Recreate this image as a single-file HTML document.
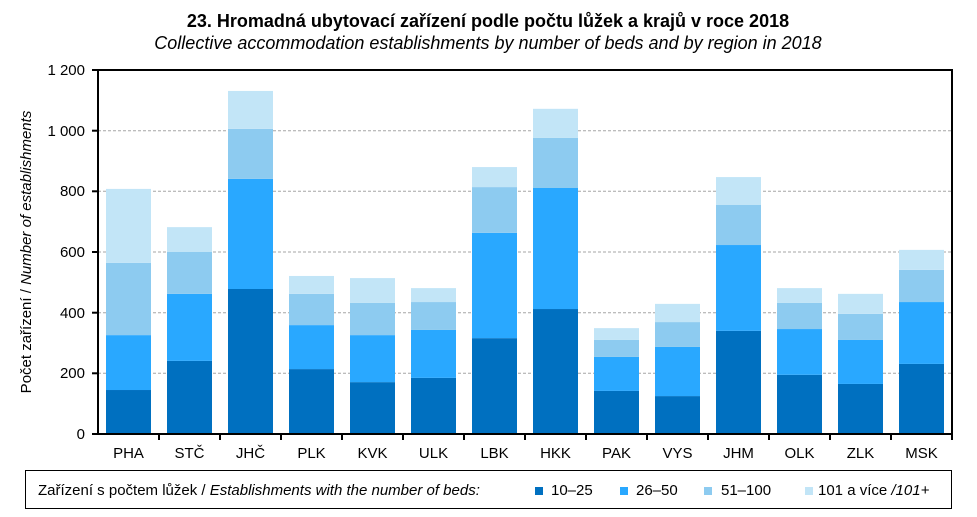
<!DOCTYPE html>
<html><head><meta charset="utf-8"><style>body{margin:0;background:#fff}svg{display:block;font-family:"Liberation Sans",Arial,sans-serif}</style></head><body>
<svg width="977" height="517" viewBox="0 0 977 517" xmlns="http://www.w3.org/2000/svg">
<text x="488" y="27" text-anchor="middle" font-size="18" font-weight="bold">23. Hromadná ubytovací zařízení podle počtu lůžek a krajů v roce 2018</text>
<text x="488" y="49" text-anchor="middle" font-size="18" font-style="italic">Collective accommodation establishments by number of beds and by region in 2018</text>
<g stroke="#a6a6a6" stroke-width="1" stroke-dasharray="3,2">
<line x1="98" x2="952" y1="130.7" y2="130.7"/><line x1="98" x2="952" y1="191.3" y2="191.3"/><line x1="98" x2="952" y1="252" y2="252"/><line x1="98" x2="952" y1="312.7" y2="312.7"/><line x1="98" x2="952" y1="373.3" y2="373.3"/>
</g>
<g id="bars"></g>
<rect x="98" y="70" width="854" height="364" fill="none" stroke="#000" stroke-width="2"/>
<g font-size="15" text-anchor="end">
<text x="85" y="75">1 200</text><text x="85" y="136">1 000</text><text x="85" y="196">800</text><text x="85" y="257">600</text><text x="85" y="318">400</text><text x="85" y="378">200</text><text x="85" y="439">0</text>
</g>
<g stroke="#000" stroke-width="2" id="ticks"></g>
<g font-size="15" text-anchor="middle" id="labels"></g>
<text transform="translate(31,252) rotate(-90)" text-anchor="middle" font-size="15">Počet zařízení / <tspan font-style="italic">Number of establishments</tspan></text>
<rect x="25.5" y="470.5" width="926" height="38" fill="none" stroke="#000" stroke-width="1"/>
<text x="38" y="495" font-size="15">Zařízení s počtem lůžek / <tspan font-style="italic">Establishments with the number of beds:</tspan></text>
<rect x="535" y="487" width="8" height="8" fill="#0070c0"/><text x="551" y="495" font-size="15">10–25</text>
<rect x="620" y="487" width="8" height="8" fill="#29a8ff"/><text x="636" y="495" font-size="15">26–50</text>
<rect x="704" y="487" width="8" height="8" fill="#8dcbf0"/><text x="721" y="495" font-size="15">51–100</text>
<rect x="805" y="487" width="8" height="8" fill="#c2e5f7"/><text x="818" y="495" font-size="15">101 a více <tspan font-style="italic">/101+</tspan></text>
</svg>
<script>
var d=[["PHA",145,326,564,808],["STČ",241,462,600,682],["JHČ",478,841,1006,1131],["PLK",214,359,462,521],["KVK",171,326,432,514],["ULK",185,343,435,481],["LBK",316,663,814,880],["HKK",412,811,976,1072],["PAK",142,254,310,349],["VYS",125,287,369,429],["JHM",340,623,755,847],["OLK",195,346,432,481],["ZLK",165,310,396,462],["MSK",231,435,541,607]];
var c=["#0070c0","#29a8ff","#8dcbf0","#c2e5f7"],ns="http://www.w3.org/2000/svg";
var b=document.getElementById("bars"),t=document.getElementById("ticks"),l=document.getElementById("labels");
function Y(v){return 434-v*364/1200}
d.forEach(function(r,i){var x=106+i*61,p=0;for(var k=0;k<4;k++){var e=document.createElementNS(ns,"rect");e.setAttribute("x",x);e.setAttribute("width",45);e.setAttribute("y",Y(r[k+1]));e.setAttribute("height",Y(p)-Y(r[k+1]));e.setAttribute("fill",c[k]);b.appendChild(e);p=r[k+1];}
var s=document.createElementNS(ns,"text");s.setAttribute("x",x+22.5);s.setAttribute("y",458);s.textContent=r[0];l.appendChild(s);
var q=document.createElementNS(ns,"line");q.setAttribute("x1",98+(i+1)*61);q.setAttribute("x2",98+(i+1)*61);q.setAttribute("y1",434);q.setAttribute("y2",440);t.appendChild(q);});
[70,130.7,191.3,252,312.7,373.3,434].forEach(function(y){var q=document.createElementNS(ns,"line");q.setAttribute("x1",92);q.setAttribute("x2",98);q.setAttribute("y1",y);q.setAttribute("y2",y);t.appendChild(q);});
</script>
</body></html>
